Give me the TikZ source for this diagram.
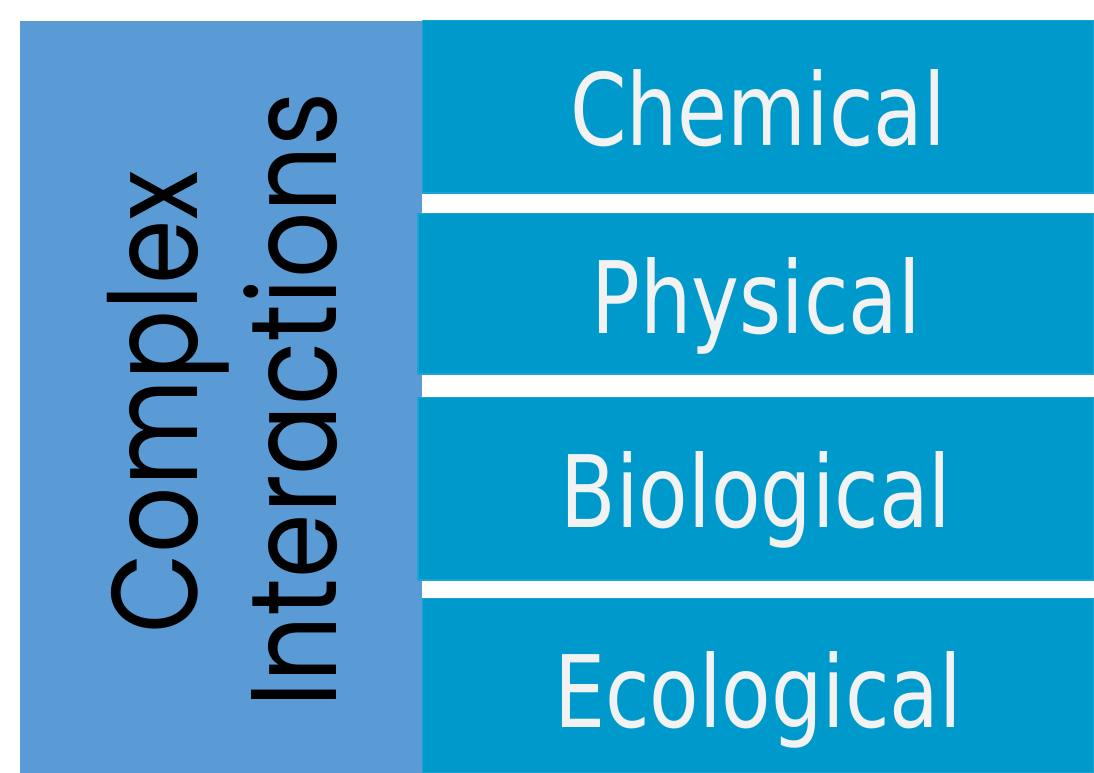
\documentclass[tikz,border=0pt]{standalone}
\usepackage{fontspec}
\usepackage{graphicx}
\newfontfamily\rightfont{DejaVu Sans}
\newfontfamily\leftfont{Poppins}
\definecolor{leftblue}{HTML}{5B9BD5}
\definecolor{rightblue}{HTML}{0099CC}
\definecolor{rightedge}{HTML}{1AA3D4}
\definecolor{lighttext}{HTML}{F2F2F2}
\newcommand{\sidescale}[1]{\scalebox{0.85}[1]{#1}}
\tikzset{
  catbox/.style={fill=rightblue, draw=rightedge, line width=1.2pt},
  cattext/.style={text=lighttext, anchor=base, inner sep=0pt, font=\rightfont\fontsize{100}{110}\selectfont, xscale=0.81, transform shape},
  sidetext/.style={text=black, anchor=base, inner sep=0pt, rotate=90, font=\leftfont\fontsize{122}{130}\selectfont}
}
\begin{document}
\begin{tikzpicture}[x=1pt, y=-1pt]
\useasboundingbox (0,0) rectangle (1094,773);
\fill[white] (0,0) rectangle (1094,773);
% left box
\fill[leftblue] (20,21) rectangle (422,773);
% right boxes
\draw[catbox] (422.5,20.5) rectangle (1094,193);
\draw[catbox] (418,213.5) rectangle (1094,374);
\draw[catbox] (418,397.5) rectangle (1094,580);
\draw[catbox] (422.5,598.5) rectangle (1094,773);
\node[cattext] (chem) at (758,145) {Chemical};
\node[cattext] (phys) at (756,333) {Physical};
\node[cattext] (bio) at (756,527) {Biological};
\node[cattext] (eco) at (758,727) {Ecological};
\node[sidetext] (complex) at (197,402) {\sidescale{Complex}};
\node[sidetext] (inter) at (336,400) {\sidescale{Interactions}};
\end{tikzpicture}
\end{document}
